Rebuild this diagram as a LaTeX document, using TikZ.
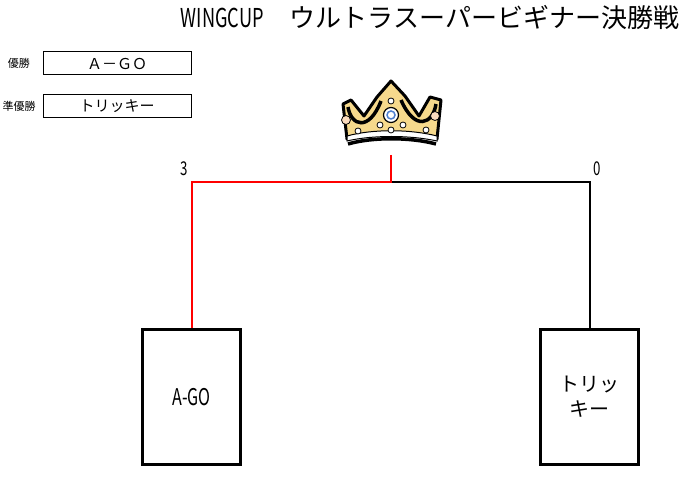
\documentclass[tikz,border=0pt]{standalone}
\usepackage{fontspec}
\usepackage{graphicx}
\setmainfont{Noto Sans CJK JP}
\usetikzlibrary{positioning}

\definecolor{crowngold}{HTML}{F6D98C}
\definecolor{pearlorange}{HTML}{F2A65A}
\definecolor{jewelblue}{HTML}{4F7FD0}

\newcommand{\narrowtext}[1]{\scalebox{0.7}[1]{#1}}

\tikzset{
  entrybox/.style={draw=black, line width=3pt, minimum width=98pt, minimum height=135pt, inner sep=0pt, align=center},
  resultbox/.style={draw=black, line width=1pt, minimum width=148pt, minimum height=23pt, inner sep=0pt, font=\fontsize{15}{18}\selectfont},
  place/.style={font=\fontsize{11}{13}\selectfont},
  score/.style={font=\fontsize{19}{21}\selectfont},
  winline/.style={red, line width=2pt},
  loseline/.style={black, line width=2pt},
  pearl/.style={fill=white, draw=black, line width=0.8pt},
}

\begin{document}
\begin{tikzpicture}[x=1pt, y=-1pt]
\useasboundingbox (0,0) rectangle (686,478);

\node[font=\fontsize{26}{30}\selectfont] (title) at (430,17) {\narrowtext{WINGCUP}　ウルトラスーパービギナー決勝戦};

\node[place] (first) at (19,63.5) {優勝};
\node[resultbox] (winner) at (117,63.5) {Ａ－ＧＯ};
\node[place] (second) at (19,106.5) {準優勝};
\node[resultbox] (runnerup) at (117,106.5) {トリッキー};

\node[entrybox, font=\fontsize{23}{26}\selectfont] (ago) at (191.5,397) {\narrowtext{A-GO}};
\node[entrybox, font=\fontsize{20}{25}\selectfont] (tricky) at (589.5,397) {トリッ\\キー};

\coordinate (champ) at (391,155);
\coordinate (joint) at (391,182);

\draw[loseline] (joint) -| (tricky.north);
\draw[winline] (champ) -- (joint) -| (ago.north);

\node[score] (scoreago) at (184,169) {\narrowtext{3}};
\node[score] (scoretricky) at (597,169) {\narrowtext{0}};

\begin{scope}
  \filldraw[fill=crowngold, draw=black, line width=3pt, line join=round]
    (347,139) -- (343,104) -- (351,100) -- (364,116) -- (377,97) -- (391,81)
    -- (405,96) -- (419,116) -- (430,97) -- (441,100) -- (437,139)
    .. controls (410,132) and (372,132) .. (347,139) -- cycle;
  \draw[line width=3.5pt] (348,107) .. controls (351,126) and (369,132) .. (381,101);
  \draw[line width=3.5pt] (436,104) .. controls (433,124) and (415,132) .. (401,100);
  \filldraw[fill=white, draw=black, line width=1pt]
    (347,136) .. controls (372,129) and (410,129) .. (437,136)
    -- (437,141) .. controls (410,135) and (372,135) .. (347,141) -- cycle;
  \draw[line width=3.5pt] (348,144) .. controls (372,137) and (410,137) .. (436,144);
  \node[pearl, circle, inner sep=0pt, minimum size=6pt] (p1) at (391,101) {};
  \node[pearl, circle, inner sep=0pt, minimum size=6pt] (p2) at (380,125) {};
  \node[pearl, circle, inner sep=0pt, minimum size=6pt] (p3) at (403,125) {};
  \node[pearl, circle, inner sep=0pt, minimum size=6pt] (p4) at (391,130) {};
  \node[pearl, circle, inner sep=0pt, minimum size=6pt] (p5) at (358,131) {};
  \node[pearl, circle, inner sep=0pt, minimum size=6pt] (p6) at (426,130) {};
  \node[pearl, circle, fill=pearlorange!40, inner sep=0pt, minimum size=9pt] (p7) at (346,120) {};
  \node[pearl, circle, fill=pearlorange!40, inner sep=0pt, minimum size=9pt] (p8) at (435,116) {};
  \node[pearl, circle, line width=1.2pt, inner sep=0pt, minimum size=15pt] (jewel) at (391,115) {};
  \draw[jewelblue, line width=1.5pt] (jewel.center) circle (4pt);
\end{scope}
\end{tikzpicture}
\end{document}
